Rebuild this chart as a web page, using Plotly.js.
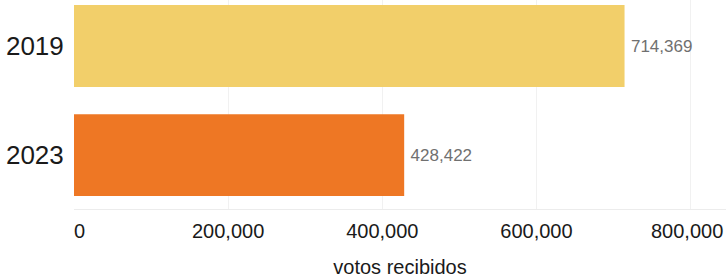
<!DOCTYPE html>
<html>
<head>
<meta charset="utf-8">
<script src="https://cdn.plot.ly/plotly-3.0.1.min.js"></script>
<style>html,body{margin:0;padding:0;background:#fff;}#chart{width:726px;height:278px;}</style>
</head>
<body>
<div id="chart"></div>
<script>
const years = ["2023", "2019"];
const votes = [428422, 714369];
const barColors = ["#EE7724", "#F2CF6A"];
const xTickVals = [0, 200000, 400000, 600000, 800000];
const xTickText = ["0", "200,000", "400,000", "600,000", "800,000"];
const xTitle = "votos recibidos";

const tickFont = {family: "Liberation Sans, Arial, sans-serif", size: 20, color: "#1a1a1a"};

// inner labels drawn as axis ticks; the two edge labels are nudged inward like in the reference
const axisTickText = xTickText.map((t, i) => (i === 0 ? "\u00a0\u00a0" + t : (i === xTickText.length - 1 ? "" : t)));

const trace = {
  type: "bar",
  orientation: "h",
  x: votes,
  y: years,
  marker: {color: barColors, line: {width: 0}},
  text: votes.map(v => "\u2009" + v.toLocaleString("en-US")),
  textposition: "outside",
  cliponaxis: false,
  textfont: {family: "Liberation Sans, Arial, sans-serif", size: 17, color: "#707070"},
  hoverinfo: "none"
};

const layout = {
  width: 726, height: 278,
  margin: {l: 74, r: 0, t: 0, b: 69},
  paper_bgcolor: "#ffffff",
  plot_bgcolor: "#ffffff",
  showlegend: false,
  bargap: 0.25,
  font: {family: "Liberation Sans, Arial, sans-serif", color: "#1a1a1a"},
  xaxis: {
    range: [0, 846000],
    tickvals: xTickVals,
    ticktext: axisTickText,
    showgrid: true,
    gridcolor: "#f1f1f1",
    gridwidth: 1,
    zeroline: false,
    showline: true,
    linecolor: "#ececec",
    linewidth: 1,
    ticks: "outside",
    ticklen: 4,
    tickcolor: "rgba(0,0,0,0)",
    tickfont: tickFont,
    title: {text: xTitle, font: {size: 20, color: "#1a1a1a"}, standoff: 21},
    fixedrange: true
  },
  yaxis: {
    type: "category",
    range: [-0.495, 1.422],
    showgrid: false,
    zeroline: false,
    showline: false,
    ticks: "outside",
    ticklen: 4,
    tickcolor: "rgba(0,0,0,0)",
    tickfont: {size: 26, color: "#1a1a1a"},
    fixedrange: true
  },
  annotations: [{
    x: xTickVals[xTickVals.length - 1],
    xref: "x",
    y: 0,
    yref: "paper",
    xanchor: "center",
    yanchor: "top",
    xshift: -4,
    yshift: -9,
    text: xTickText[xTickText.length - 1],
    showarrow: false,
    font: tickFont
  }]
};

Plotly.newPlot("chart", [trace], layout, {displayModeBar: false, staticPlot: true});
</script>
</body>
</html>
